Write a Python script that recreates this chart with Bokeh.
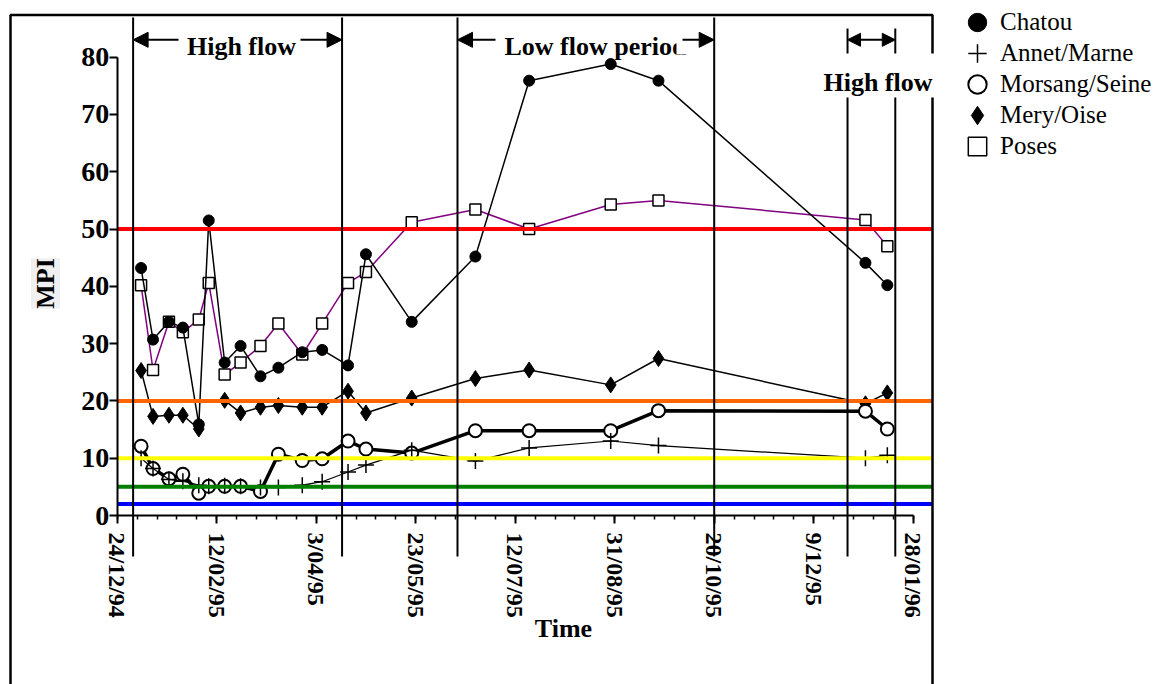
import math
from datetime import datetime

import numpy as np
from bokeh.plotting import figure
from bokeh.models import (Range1d, FixedTicker, Legend, LegendItem, Label, BoxAnnotation,
                          Arrow, NormalHead, ColumnDataSource)
from bokeh.embed import file_html
from bokeh.resources import INLINE

# ---------------------------------------------------------------- data
ORIGIN = "1994-12-24"

sample_dates = ["1995-01-05", "1995-01-11", "1995-01-19", "1995-01-26", "1995-02-03",
                "1995-02-08", "1995-02-16", "1995-02-24", "1995-03-06", "1995-03-15",
                "1995-03-27", "1995-04-06", "1995-04-19", "1995-04-28", "1995-05-21",
                "1995-06-22", "1995-07-19", "1995-08-29", "1995-09-22", "1996-01-04",
                "1996-01-15"]

chatou  = [43.2, 30.7, 33.8, 32.8, 15.9, 51.5, 26.7, 29.6, 24.3, 25.8, 28.5,
           28.9, 26.2, 45.6, 33.8, 45.2, 75.9, 78.8, 75.9, 44.1, 40.2]
annet   = [10.0, 8.2, 6.3, 6.0, 5.3, 5.1, 5.2, 5.1, 4.9, 4.9, 5.3,
           5.9, 7.6, 8.8, 11.4, 9.5, 11.8, 13.0, 12.2, 10.0, 10.5]
morsang = [12.1, 8.2, 6.4, 7.2, 3.9, 5.1, 5.1, 5.1, 4.2, 10.7, 9.6,
           9.9, 13.0, 11.6, 10.9, 14.8, 14.8, 14.8, 18.3, 18.2, 15.1]
mery    = [25.3, 17.3, 17.5, 17.5, 15.1, None, 20.1, 17.9, 18.9, 19.2, 18.9,
           18.9, 21.7, 17.9, 20.5, 23.9, 25.4, 22.8, 27.4, 19.5, 21.4]
poses   = [40.2, 25.4, 33.8, 32.0, 34.2, 40.6, 24.6, 26.7, 29.6, 33.5, 28.1,
           33.5, 40.6, 42.5, 51.2, 53.4, 50.0, 54.3, 55.0, 51.6, 47.0]

tick_labels = ["24/12/94", "12/02/95", "3/04/95", "23/05/95", "12/07/95",
               "31/08/95", "20/10/95", "9/12/95", "28/01/96"]

# quality class limits of the index
levels = [50, 20, 10, 5, 2]
level_colors = ["#FF0000", "#FF6600", "#FFFF00", "#008000", "#0000FF"]

# hydrological period boundaries
period_bounds = ["1995-01-01", "1995-04-16", "1995-06-13", "1995-10-20",
                 "1995-12-26", "1996-01-19"]

# ---------------------------------------------------------------- helpers
t0 = datetime.strptime(ORIGIN, "%Y-%m-%d")


def days_since(s, fmt="%Y-%m-%d"):
    return (datetime.strptime(s, fmt) - t0).days


days = np.array([days_since(s) for s in sample_dates], dtype=float)
tick_days = [days_since(s, "%d/%m/%y") for s in tick_labels]
bound_days = [days_since(s) for s in period_bounds]

W, H = 1160, 684
# canvas geometry of the time / MPI scales
X0_PX, PX_PER_DAY = 116.7, 1.99
Y0_PX, PX_PER_UNIT = 515.0, 5.729


def day_at(px):
    return (px - X0_PX) / PX_PER_DAY


def val_at(py):
    return (Y0_PX - py) / PX_PER_UNIT


def arr(v):
    return np.array([np.nan if x is None else x for x in v], dtype=float)


src = ColumnDataSource(dict(day=days, chatou=arr(chatou), annet=arr(annet),
                            morsang=arr(morsang), mery=arr(mery), poses=arr(poses)))

# ---------------------------------------------------------------- figure
p = figure(width=W, height=H, output_backend="svg", toolbar_location=None,
           x_range=Range1d(day_at(0), day_at(W)), y_range=Range1d(val_at(H), val_at(0)),
           min_border=0, min_border_left=0, min_border_right=0,
           min_border_top=0, min_border_bottom=0,
           outline_line_color=None, background_fill_color="white",
           border_fill_color="white")
p.grid.visible = False

SERIF = "Liberation Serif"

xa = p.xaxis[0]
xa.fixed_location = 0
xa.bounds = (tick_days[0], tick_days[-1])
xa.ticker = FixedTicker(ticks=tick_days,
                        minor_ticks=list(range(tick_days[0], tick_days[-1] + 1, 10)))
xa.major_label_overrides = {d: lab for d, lab in zip(tick_days, tick_labels)}
xa.major_label_orientation = "vertical"
xa.axis_line_width = 2
xa.major_tick_line_width = 2
xa.major_tick_in = 0
xa.major_tick_out = 8
xa.minor_tick_line_width = 1.5
xa.minor_tick_in = 0
xa.minor_tick_out = 4
xa.major_label_standoff = 9
xa.major_label_text_font = SERIF
xa.major_label_text_font_style = "bold"
xa.major_label_text_font_size = "24px"
xa.major_label_text_color = "black"

ya = p.yaxis[0]
ya.fixed_location = 0
ya.bounds = (0, 80)
ya.ticker = FixedTicker(ticks=list(range(0, 81, 10)), minor_ticks=[])
ya.axis_line_width = 2
ya.major_tick_line_width = 2
ya.major_tick_in = 0
ya.major_tick_out = 8
ya.minor_tick_line_color = None
ya.major_label_standoff = 0
ya.major_label_text_font = SERIF
ya.major_label_text_font_style = "bold"
ya.major_label_text_font_size = "28px"
ya.major_label_text_color = "black"

# ---------------------------------------------------------------- series
p.line("day", "poses", source=src, line_color="#800080", line_width=1.5)
r_poses = p.scatter("day", "poses", source=src, marker="square", size=11,
                    fill_color="white", line_color="black", line_width=1.5)

p.line("day", "mery", source=src, line_color="black", line_width=1.5)
r_mery = p.scatter("day", "mery", source=src, marker="diamond", size=16,
                   fill_color="black", line_color="black")

p.line("day", "morsang", source=src, line_color="black", line_width=3.5)
r_morsang = p.scatter("day", "morsang", source=src, marker="circle", size=13,
                      fill_color="white", line_color="black", line_width=2)

p.line("day", "annet", source=src, line_color="black", line_width=1.2)
r_annet = p.scatter("day", "annet", source=src, marker="cross", size=16,
                    line_color="black", line_width=1.5)

p.line("day", "chatou", source=src, line_color="black", line_width=1.5)
r_chatou = p.scatter("day", "chatou", source=src, marker="circle", size=11,
                     fill_color="black", line_color="black")

# class limits
edge_day = day_at(932)
p.segment(x0=[tick_days[0]] * len(levels), y0=levels,
          x1=[edge_day] * len(levels), y1=levels,
          line_color=level_colors, line_width=4)

# period boundaries
tops = [val_at(17)] * 4 + [val_at(28)] * 2
p.segment(x0=bound_days, y0=[val_at(556)] * len(bound_days),
          x1=bound_days, y1=tops, line_color="black", line_width=2)

# ---------------------------------------------------------------- frame + annotations
p.add_layout(BoxAnnotation(left=day_at(10), right=day_at(932), top=val_at(14.5),
                           bottom=val_at(720), fill_color=None, line_color="black",
                           line_alpha=1, line_width=2.5))

label_kw = dict(text_font=SERIF, text_font_style="bold", text_font_size="26px",
                text_color="black", text_baseline="alphabetic")
arrow_y = val_at(39.3)

p.add_layout(Label(x=day_at(241), y=val_at(45.7), text="High flow",
                   text_align="center", **label_kw))
p.add_layout(Label(x=day_at(504), y=val_at(45.7), text="Low flow period",
                   text_align="left", **label_kw))
# the box holding the low-flow caption is narrower than its text
p.add_layout(BoxAnnotation(left=day_at(676), right=day_at(690), top=val_at(22),
                           bottom=val_at(54), fill_color="white", fill_alpha=1,
                           line_color=None))
# white caption box over the boundary lines and the frame edge
p.add_layout(BoxAnnotation(left=day_at(821), right=day_at(936), top=val_at(53),
                           bottom=val_at(97), fill_color="white", fill_alpha=1,
                           line_color=None))
p.add_layout(Label(x=day_at(932), y=val_at(81.7), text="High flow",
                   text_align="right", **label_kw))


def head(size):
    return NormalHead(size=size, fill_color="black", line_color="black", line_width=1)


for x_from, x_to in [(day_at(178), bound_days[0]), (day_at(300), bound_days[1]),
                     (day_at(495), bound_days[2]), (day_at(682), bound_days[3])]:
    p.add_layout(Arrow(end=head(15), x_start=x_from, y_start=arrow_y,
                       x_end=x_to, y_end=arrow_y, line_width=2, line_color="black"))
p.add_layout(Arrow(start=head(13), end=head(13), x_start=bound_days[4], y_start=arrow_y,
                   x_end=bound_days[5], y_end=arrow_y, line_width=2, line_color="black"))

p.add_layout(Label(x=day_at(563), y=val_at(628), text="Time", text_align="center",
                   text_baseline="middle", text_font=SERIF, text_font_style="bold",
                   text_font_size="26px", text_color="black"))
p.add_layout(Label(x=day_at(45), y=val_at(283), text="MPI", angle=math.pi / 2,
                   text_align="center", text_baseline="middle", text_font=SERIF,
                   text_font_style="bold", text_font_size="26px", text_color="black",
                   background_fill_color="#f0f0f0"))

# ---------------------------------------------------------------- legend
# one single-entry legend per station so the rows can sit closer than the key size
entries = [("Chatou", r_chatou), ("Annet/Marne", r_annet), ("Morsang/Seine", r_morsang),
           ("Mery/Oise", r_mery), ("Poses", r_poses)]
KEY = 46
for i, (name, rend) in enumerate(entries):
    row_center = 22 + 31 * i
    p.add_layout(Legend(items=[LegendItem(label=name, renderers=[rend])],
                        location=(977 - KEY / 2, H - (row_center + KEY / 2)),
                        glyph_width=KEY, glyph_height=KEY, label_height=KEY,
                        padding=0, margin=0, label_standoff=0,
                        border_line_color=None, background_fill_alpha=0,
                        label_text_font=SERIF, label_text_font_size="25px",
                        label_text_color="black"))

open("out.html", "w").write(file_html(p, INLINE))
